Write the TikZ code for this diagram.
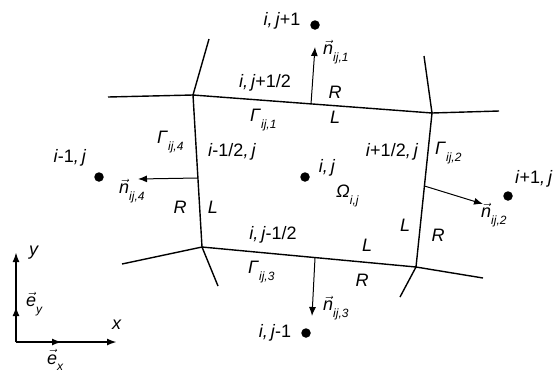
\documentclass[tikz,border=0pt]{standalone}
\usepackage{fontspec}
\setmainfont{Liberation Sans}
\usetikzlibrary{arrows.meta}
\newcommand\lsub[1]{\raisebox{-0.65ex}{\fontsize{12}{12}\selectfont\textit{#1}}}
\newcommand\vecn{$\vec{\mbox{\textit{n}}}$}
\newcommand\vece{$\vec{\mbox{\textit{e}}}$}
\begin{document}
\begin{tikzpicture}[x=1pt,y=-1pt,
  lbl/.style={inner sep=0pt,font=\fontsize{18}{18}\selectfont},
  edge/.style={line width=1.4pt},
  narrow/.style={line width=1pt,-{Latex[length=9pt,width=7pt]}},
  axis/.style={line width=2pt,-{Latex[length=10pt,width=7pt]}},
  dot/.style={circle,fill=black,inner sep=0pt,minimum size=9.5pt}]
\useasboundingbox (0,0) rectangle (553,376);
% corners
\coordinate (A) at (193,95);
\coordinate (B) at (432,113);
\coordinate (C) at (416,267);
\coordinate (D) at (202,247);
% outer ends
\coordinate (Au) at (209,39);
\coordinate (Al) at (108,97);
\coordinate (Bu) at (424,56);
\coordinate (Br) at (499,111);
\coordinate (Cd) at (400,297);
\coordinate (Cr) at (483,278);
\coordinate (Dd) at (218,286);
\coordinate (Dl) at (122,264);
\draw[edge] (A) -- (B) -- (C) -- (D) -- cycle;
\draw[edge] (A) -- (Au);
\draw[edge] (A) -- (Al);
\draw[edge] (B) -- (Bu);
\draw[edge] (B) -- (Br);
\draw[edge] (C) -- (Cd);
\draw[edge] (C) -- (Cr);
\draw[edge] (D) -- (Dd);
\draw[edge] (D) -- (Dl);
% normals
\coordinate (n1s) at (311,104);
\coordinate (n1e) at (315,47);
\coordinate (n4s) at (197.5,178);
\coordinate (n4e) at (138,179);
\coordinate (n2s) at (424.5,186);
\coordinate (n2e) at (483,204);
\coordinate (n3s) at (315,257.8);
\coordinate (n3e) at (312,316);
\draw[narrow] (n1s) -- (n1e);
\draw[narrow] (n4s) -- (n4e);
\draw[narrow] (n2s) -- (n2e);
\draw[narrow] (n3s) -- (n3e);
% dots
\node[dot] (pN) at (315,25) {};
\node[dot] (pW) at (99,177) {};
\node[dot] (pE) at (508,196) {};
\node[dot] (pS) at (306,333) {};
\node[dot] (pC) at (305,177) {};
% labels
\node[lbl] (tN) at (282,21) {\textit{i,\,j}+1};
\node[lbl,anchor=west] (ln1) at (323,52) {\vecn\lsub{ij,1}};
\node[lbl] (tN2) at (265,83) {\textit{i,\,j}+1/2};
\node[lbl] (r1) at (335,92) {\textit{R}};
\node[lbl,anchor=west] (g1) at (250,120) {\textit{Γ}\lsub{ij,1}};
\node[lbl] (l1) at (335,117) {\textit{L}};
\node[lbl] (tW) at (70,158) {\textit{i}-1\textit{,\,j}};
\node[lbl,anchor=west] (g4) at (157,142) {\textit{Γ}\lsub{ij,4}};
\node[lbl] (tW2) at (232,152) {\textit{i}-1/2\textit{,\,j}};
\node[lbl,anchor=west] (ln4) at (119,191) {\vecn\lsub{ij,4}};
\node[lbl] (r4) at (180,207) {\textit{R}};
\node[lbl] (l4) at (213,207) {\textit{L}};
\node[lbl] (tC) at (327,168) {\textit{i,\,j}};
\node[lbl,anchor=west] (om) at (336,196) {\textit{Ω}\lsub{i,j}};
\node[lbl] (tE2) at (392,152) {\textit{i}+1/2\textit{,\,j}};
\node[lbl,anchor=west] (g2) at (435,153) {\textit{Γ}\lsub{ij,2}};
\node[lbl,anchor=west] (tE) at (515,179) {\textit{i}+1\textit{,\,j}};
\node[lbl,anchor=west] (ln2) at (481,215) {\vecn\lsub{ij,2}};
\node[lbl] (l2) at (405,225) {\textit{L}};
\node[lbl] (r2) at (438,235) {\textit{R}};
\node[lbl] (l3) at (367,245) {\textit{L}};
\node[lbl] (tS2) at (273,235) {\textit{i,\,j}-1/2};
\node[lbl,anchor=west] (g3) at (248,272) {\textit{Γ}\lsub{ij,3}};
\node[lbl] (r3) at (362,280) {\textit{R}};
\node[lbl,anchor=west] (ln3) at (323,308) {\vecn\lsub{ij,3}};
\node[lbl] (tS) at (275,333) {\textit{i,\,j}-1};
% axes
\coordinate (O) at (16,342);
\coordinate (Yend) at (16,252);
\coordinate (Xend) at (117,342);
\coordinate (ey) at (16,306);
\coordinate (ex) at (62,342);
\draw[axis] (O) -- (Yend);
\draw[axis] (O) -- (Xend);
\draw[axis] (O) -- (ey);
\draw[axis] (O) -- (ex);
\node[lbl] (ly) at (34,253) {\textit{y}};
\node[lbl] (lx) at (117,325) {\textit{x}};
\node[lbl,anchor=west] (ley) at (26,304) {\vece\lsub{y}};
\node[lbl,anchor=west] (lex) at (47,360) {\vece\lsub{x}};
\end{tikzpicture}
\end{document}
